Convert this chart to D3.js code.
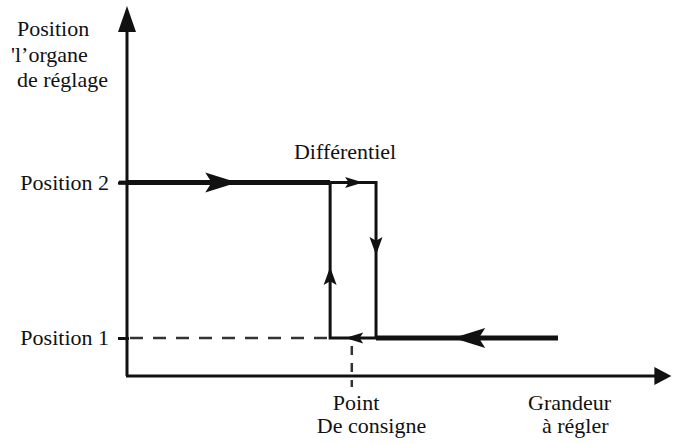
<!DOCTYPE html>
<html>
<head>
<meta charset="utf-8">
<script src="https://cdn.jsdelivr.net/npm/d3@7"></script>
<style>
  body { margin: 0; background: #fff; }
</style>
</head>
<body>
<svg id="chart" width="674" height="444"></svg>
<script>
// levels of the regulating device (y) and input quantity (x)
const levelValues = [10, 52];
const levelLabels = ["Position 1", "Position 2"];
const setpoint = 42;
const switchLow = 37.8;    // lower path climbs back to position 2 here
const switchHigh = 46.3;   // upper path drops to position 1 here
const thickStart = 0;
const thickEnd = 80;

// arrows along the loop: x, y, direction, size
const arrowX = [20.6, 43.9, switchHigh, switchLow, 40.6, 60.6];
const arrowY = [52, 52, 32.4, 29.2, 10, 10];
const arrowDir = ["right", "right", "down", "up", "left", "left"];
const arrowBig = [true, false, false, false, false, true];

const yTitle = ["Position", "'l\u2019organe", "de r\u00e9glage"];
const setpointLabel = ["Point", "De consigne"];
const xTitle = ["Grandeur", "\u00e0 r\u00e9gler"];

let svg = d3.select('#chart');
let ink = "#111";
let serif = "'Liberation Serif', 'DejaVu Serif', 'Noto Serif', Tinos, 'Nimbus Roman', 'FreeSerif', Times, serif";

let x = d3.scaleLinear().domain([0, 100]).range([126, 666]);
let y = d3.scaleLinear().domain([0, 100]).range([375, 5]);

let defs = svg.append("defs");
defs.append("clipPath").attr("id", "titleclip")
    .append("rect").attr("x", 0).attr("y", 0).attr("width", 108).attr("height", 120);

// axes lines with arrow heads
svg.append("line")
    .attr("x1", x(0) + 1).attr("x2", x(0) + 1)
    .attr("y1", y(0) + 1).attr("y2", y(96))
    .attr("stroke", ink).attr("stroke-width", 3);
svg.append("path")
    .attr("d", "M" + (x(0) + 1) + "," + (y(100) + 1) + " l-9,26 l18,0 z")
    .attr("fill", ink);

svg.append("line")
    .attr("x1", x(0)).attr("x2", x(98))
    .attr("y1", y(0) + 1).attr("y2", y(0) + 1)
    .attr("stroke", ink).attr("stroke-width", 3);
svg.append("path")
    .attr("d", "M" + x(101) + "," + (y(0) + 1) + " l-17,-9 l0,18 z")
    .attr("fill", ink);

// left axis ticks + labels
let yAxis = d3.axisLeft(y)
    .tickValues(levelValues)
    .tickFormat(function(d, i) { return levelLabels[i]; })
    .tickSizeInner(8)
    .tickSizeOuter(0)
    .tickPadding(12);

let gy = svg.append("g")
    .attr("transform", "translate(" + (x(0) + 3) + ",0)")
    .call(yAxis)
    .attr("font-family", serif)
    .attr("font-size", 22);
gy.select(".domain").remove();
gy.selectAll(".tick line").attr("stroke", ink).attr("stroke-width", 3).attr("x2", -11);
gy.selectAll(".tick text")
    .attr("fill", ink)
    .attr("dy", "0.3em");

// dashed guides
svg.append("line")
    .attr("x1", x(0) + 4).attr("x2", x(switchLow) - 2)
    .attr("y1", y(levelValues[0])).attr("y2", y(levelValues[0]))
    .attr("stroke", "#333").attr("stroke-width", 2.5)
    .attr("stroke-dasharray", "13,10");
svg.append("line")
    .attr("x1", x(setpoint) - 1).attr("x2", x(setpoint) - 1)
    .attr("y1", y(levelValues[0]) + 8).attr("y2", y(0) + 12)
    .attr("stroke", "#333").attr("stroke-width", 2.5)
    .attr("stroke-dasharray", "9,8");

// the hysteresis loop
let line = d3.line().x(function(d) { return x(d[0]); }).y(function(d) { return y(d[1]); });

let loop = [
    [switchLow, levelValues[1]], [switchHigh, levelValues[1]], [switchHigh, levelValues[0]],
    [switchLow, levelValues[0]], [switchLow, levelValues[1]]
];
svg.append("path")
    .attr("d", line(loop))
    .attr("fill", "none").attr("stroke", ink).attr("stroke-width", 3)
    .attr("stroke-linejoin", "miter");

let thickRuns = [
    [[thickStart, levelValues[1]], [switchLow, levelValues[1]]],
    [[switchHigh, levelValues[0]], [thickEnd, levelValues[0]]]
];
svg.selectAll(".thick")
    .data(thickRuns)
    .enter().append("path")
    .attr("class", "thick")
    .attr("d", function(d) { return line(d); })
    .attr("fill", "none").attr("stroke", ink).attr("stroke-width", 5);
svg.append("line")
    .attr("x1", x(thickStart) - 7).attr("x2", x(thickStart))
    .attr("y1", y(levelValues[1])).attr("y2", y(levelValues[1]))
    .attr("stroke", ink).attr("stroke-width", 4);

// arrow heads
let rot = { right: 0, down: 90, left: 180, up: 270 };
let arrows = arrowX.map(function(v, i) {
    return { x: v, y: arrowY[i], dir: arrowDir[i], big: arrowBig[i] };
});
svg.selectAll(".arrow")
    .data(arrows)
    .enter().append("path")
    .attr("class", "arrow")
    .attr("d", function(d) {
        let len = d.big ? 32 : 18;
        let half = d.big ? 10 : (d.dir == "up" || d.dir == "down" ? 6.5 : 5.5);
        return "M0,0 L" + (-len) + "," + (-half) + " L" + (-len * 0.8) + ",0 L" + (-len) + "," + half + " Z";
    })
    .attr("transform", function(d) {
        return "translate(" + x(d.x) + "," + y(d.y) + ") rotate(" + rot[d.dir] + ")";
    })
    .attr("fill", ink);

// texts
let txt = svg.append("g")
    .attr("font-family", serif)
    .attr("font-size", 22)
    .attr("fill", ink);

txt.append("text")
    .attr("x", (x(switchLow) + x(switchHigh)) / 2 - 8)
    .attr("y", y(levelValues[1]) - 24)
    .attr("text-anchor", "middle")
    .text("Diff\u00e9rentiel");

txt.append("g").attr("clip-path", "url(#titleclip)")
    .selectAll("text")
    .data(yTitle)
    .enter().append("text")
    .attr("x", function(d, i) { return i == 1 ? 11 : 17; })
    .attr("y", function(d, i) { return 36 + i * 25.5; })
    .text(function(d) { return d; });

txt.selectAll(".sp")
    .data(setpointLabel)
    .enter().append("text")
    .attr("class", "sp")
    .attr("x", function(d, i) { return x(setpoint) + (i == 0 ? -20 : -36); })
    .attr("y", function(d, i) { return 410 + i * 23; })
    .text(function(d) { return d; });

txt.selectAll(".xt")
    .data(xTitle)
    .enter().append("text")
    .attr("class", "xt")
    .attr("x", function(d, i) { return i == 0 ? 528 : 542; })
    .attr("y", function(d, i) { return 410 + i * 23; })
    .text(function(d) { return d; });
</script>
</body>
</html>
